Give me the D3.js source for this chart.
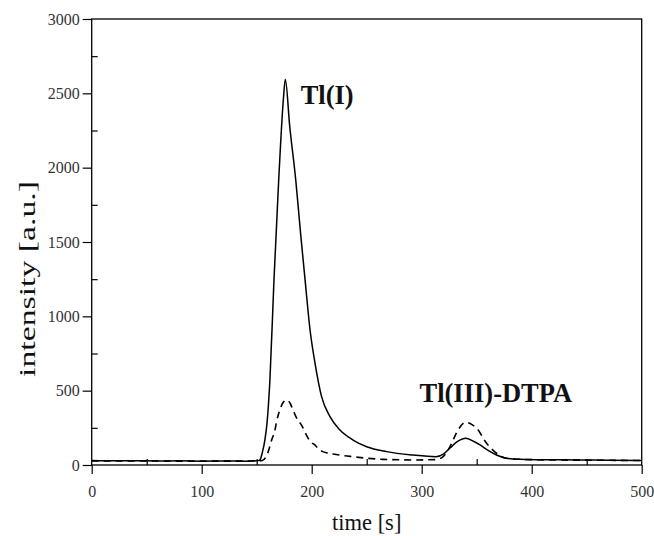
<!DOCTYPE html>
<html>
<head>
<meta charset="utf-8">
<script src="https://cdn.jsdelivr.net/npm/d3@7/dist/d3.min.js"></script>
<style>
  html, body { margin: 0; padding: 0; background: #fff; }
  svg { display: block; }
</style>
</head>
<body>
<svg id="chart" width="654" height="536"></svg>
<script>
// time [s] and intensity [a.u.]
const solidTime = [0, 20, 40, 60, 80, 100, 120, 140, 150, 153, 155, 157.5, 159.6, 162, 165.7, 170, 174.2, 176, 180, 185.5, 190, 194, 198.5, 203, 209, 216.6, 225.7, 237.6, 250, 268, 292, 313, 320, 325.7, 333, 340, 347, 353, 360, 368, 377, 390, 410, 444, 470, 500];
const solidValue = [30, 28, 29, 27, 28, 26, 27, 26, 28, 35, 80, 170, 300, 570, 1244, 1917, 2455, 2595, 2280, 1917, 1550, 1244, 908, 686, 460, 325, 235, 168, 123, 90, 67, 56, 75, 114, 160, 180, 160, 135, 100, 67, 45, 38, 35, 34, 32, 30];

const dashTime = [0, 50, 100, 150, 155, 160, 163.6, 166.6, 168, 171, 174, 177, 180, 183, 186, 191, 196, 199, 202, 207.5, 210, 219.5, 235, 265, 292, 313, 320, 325.7, 333, 340, 345, 350, 359, 368, 377, 390, 420, 460, 500];
const dashValue = [28, 27, 26, 27, 30, 80, 168, 235, 290, 370, 420, 437, 420, 370, 320, 265, 190, 155, 140, 101, 90, 74, 58, 38, 34, 36, 60, 123, 235, 287, 275, 247, 146, 79, 45, 38, 34, 32, 30];

const xMajor = [0, 100, 200, 300, 400, 500];
const xMinor = [50, 150, 250, 350, 450];
const yMajor = [0, 500, 1000, 1500, 2000, 2500, 3000];
const yMinor = [250, 750, 1250, 1750, 2250, 2750];

const peakLabels = [
  { text: "Tl(I)", t: 190, v: 2430 },
  { text: "Tl(III)-DTPA", t: 298, v: 426 }
];

const svg = d3.select("#chart");
const serif = "'Liberation Serif', 'DejaVu Serif', serif";

const x = d3.scaleLinear().domain([0, 500]).range([91.7, 641.7]);
const y = d3.scaleLinear().domain([0, 3000]).range([465, 19]);

// frame: top and right edges are plain lines
svg.append("rect")
  .attr("x", x(0)).attr("y", y(3000))
  .attr("width", x(500) - x(0)).attr("height", y(0) - y(3000))
  .attr("fill", "none").attr("stroke", "#000").attr("stroke-width", 1.3);

// major ticks point outwards, labels on them
svg.append("g").attr("transform", `translate(0,${y(0)})`)
  .call(d3.axisBottom(x).tickValues(xMajor).tickSize(9).tickPadding(12).tickFormat(d3.format("d")));
svg.append("g").attr("transform", `translate(${x(0)},0)`)
  .call(d3.axisLeft(y).tickValues(yMajor).tickSize(9).tickPadding(3).tickFormat(d3.format("d")));

// minor ticks point inwards
svg.append("g").attr("transform", `translate(0,${y(0)})`)
  .call(d3.axisTop(x).tickValues(xMinor).tickSize(6).tickFormat(""));
svg.append("g").attr("transform", `translate(${x(0)},0)`)
  .call(d3.axisRight(y).tickValues(yMinor).tickSize(6).tickFormat(""));

svg.selectAll(".domain").remove();
svg.selectAll(".tick line").attr("stroke", "#000").attr("stroke-width", 1.2);
svg.selectAll(".tick text")
  .attr("font-family", serif).attr("font-size", 16).attr("fill", "#333");

const line = d3.line()
  .x(d => x(d[0])).y(d => y(d[1]))
  .curve(d3.curveMonotoneX);

svg.append("path")
  .datum(d3.zip(dashTime, dashValue))
  .attr("d", line)
  .attr("fill", "none").attr("stroke", "#000")
  .attr("stroke-width", 1.6).attr("stroke-dasharray", "7,5");

svg.append("path")
  .datum(d3.zip(solidTime, solidValue))
  .attr("d", line)
  .attr("fill", "none").attr("stroke", "#000").attr("stroke-width", 1.5);

// peak names
svg.selectAll(".peak").data(peakLabels).join("text")
  .attr("class", "peak")
  .attr("x", d => x(d.t)).attr("y", d => y(d.v))
  .attr("font-family", serif).attr("font-size", 26.5).attr("font-weight", "bold")
  .attr("fill", "#111")
  .text(d => d.text);

// axis titles
svg.append("text")
  .attr("x", (x(0) + x(500)) / 2).attr("y", 530)
  .attr("text-anchor", "middle")
  .attr("font-family", serif).attr("font-size", 22.5).attr("fill", "#111")
  .text("time [s]");

// the y title is drawn stretched along its length in the original
svg.append("text")
  .attr("transform", "translate(35,279) rotate(-90)")
  .attr("x", -98)
  .attr("textLength", 196).attr("lengthAdjust", "spacingAndGlyphs")
  .attr("font-family", serif).attr("font-size", 23).attr("fill", "#111")
  .text("intensity [a.u.]");
</script>
</body>
</html>
